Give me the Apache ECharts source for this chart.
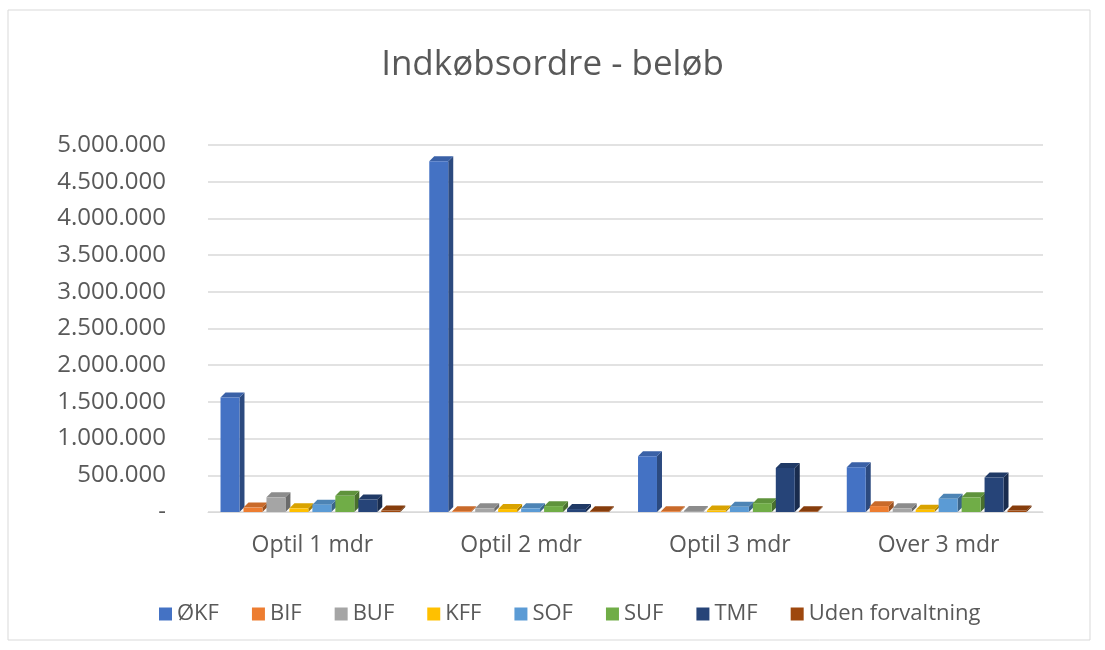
<!DOCTYPE html>
<html>
<head>
<meta charset="utf-8">
<script src="https://cdn.jsdelivr.net/npm/echarts@6/dist/echarts.min.js"></script>
<style>
html,body{margin:0;padding:0;background:#fff;}
#chart{width:1105px;height:650px;}
</style>
</head>
<body>
<div id="chart"></div>
<script>
const categories = ['Optil 1 mdr', 'Optil 2 mdr', 'Optil 3 mdr', 'Over 3 mdr'];
const seriesNames = ['ØKF', 'BIF', 'BUF', 'KFF', 'SOF', 'SUF', 'TMF', 'Uden forvaltning'];
const seriesColors = ['#4472C4', '#ED7D31', '#A5A5A5', '#FFC000', '#5B9BD5', '#70AD47', '#264478', '#9E480E'];
const valOKF  = [1560000, 4780000, 760000, 610000];
const valBIF  = [60000, 10000, 10000, 80000];
const valBUF  = [200000, 50000, 15000, 50000];
const valKFF  = [50000, 40000, 20000, 30000];
const valSOF  = [100000, 50000, 70000, 180000];
const valSUF  = [220000, 80000, 120000, 200000];
const valTMF  = [170000, 40000, 600000, 470000];
const valUden = [20000, 10000, 10000, 20000];
const seriesValues = [valOKF, valBIF, valBUF, valKFF, valSOF, valSUF, valTMF, valUden];
const yTicks = { min: 0, max: 5000000, interval: 500000 };

function shade(hex, f) {
  const n = parseInt(hex.slice(1), 16);
  let r = (n >> 16) & 255, g = (n >> 8) & 255, b = n & 255;
  if (f < 0) { r = r * (1 + f); g = g * (1 + f); b = b * (1 + f); }
  else { r = r + (255 - r) * f; g = g + (255 - g) * f; b = b + (255 - b) * f; }
  return 'rgb(' + Math.round(r) + ',' + Math.round(g) + ',' + Math.round(b) + ')';
}

const nS = seriesNames.length;
function makeRender(si) {
  const col = seriesColors[si];
  return function (params, api) {
    const ci = api.value(0), v = api.value(1);
    const band = api.size([1, 0])[0];
    const groupW = band * 0.88;
    const bw = groupW / nS;
    const base = api.coord([ci, 0]);
    const topPt = api.coord([ci, v]);
    const x0 = base[0] - groupW / 2 + si * bw;
    const w = bw - 4;
    const yb = base[1];
    const yt = topPt[1];
    const dx = 5, dy = 5;
    return {
      type: 'group',
      children: [
        { type: 'polygon', shape: { points: [[x0 + w, yt], [x0 + w + dx, yt - dy], [x0 + w + dx, yb - dy], [x0 + w, yb]] },
          style: { fill: shade(col, -0.35) } },
        { type: 'polygon', shape: { points: [[x0, yt], [x0 + dx, yt - dy], [x0 + w + dx, yt - dy], [x0 + w, yt]] },
          style: { fill: shade(col, -0.15) } },
        { type: 'rect', shape: { x: x0, y: yt, width: w, height: Math.max(0, yb - yt) },
          style: { fill: col } }
      ]
    };
  };
}

const series = seriesNames.map((name, si) => ({
  name: name,
  type: 'custom',
  renderItem: makeRender(si),
  itemStyle: { color: seriesColors[si] },
  encode: { x: 0, y: 1 },
  data: categories.map((c, ci) => [ci, seriesValues[si][ci]])
}));

const FONT = '"Open Sans", sans-serif';
const chart = echarts.init(document.getElementById('chart'), null, { renderer: 'canvas' });
chart.setOption({
  animation: false,
  backgroundColor: '#ffffff',
  textStyle: { fontFamily: FONT },
  title: {
    text: 'Indkøbsordre - beløb',
    left: 'center', top: 43,
    textStyle: { fontSize: 35, fontWeight: 'normal', color: '#595959', fontFamily: FONT }
  },
  graphic: [{
    type: 'rect', shape: { x: 8, y: 10, width: 1082, height: 630 },
    style: { fill: 'none', stroke: '#d9d9d9', lineWidth: 1 }, silent: true, z: -1
  }],
  grid: { left: 208, right: 62, top: 145, bottom: 138 },
  legend: {
    bottom: 20, left: 154,
    icon: 'rect', itemWidth: 13, itemHeight: 13, itemGap: 33,
    textStyle: { fontSize: 22, color: '#595959', fontFamily: FONT },
    data: seriesNames
  },
  xAxis: {
    type: 'category', data: categories,
    axisLine: { show: true, lineStyle: { color: '#d9d9d9' } },
    axisTick: { show: false },
    axisLabel: { fontSize: 23, color: '#595959', margin: 22, fontFamily: FONT }
  },
  yAxis: {
    type: 'value', min: yTicks.min, max: yTicks.max, interval: yTicks.interval,
    axisLine: { show: false }, axisTick: { show: false },
    splitLine: { lineStyle: { color: '#d9d9d9', width: 1.5 } },
    axisLabel: {
      fontSize: 24, color: '#595959', margin: 42, fontFamily: FONT,
      formatter: function (v) { return v === 0 ? '-' : v.toString().replace(/\B(?=(\d{3})+(?!\d))/g, '.'); }
    }
  },
  series: series
});
</script>
</body>
</html>
